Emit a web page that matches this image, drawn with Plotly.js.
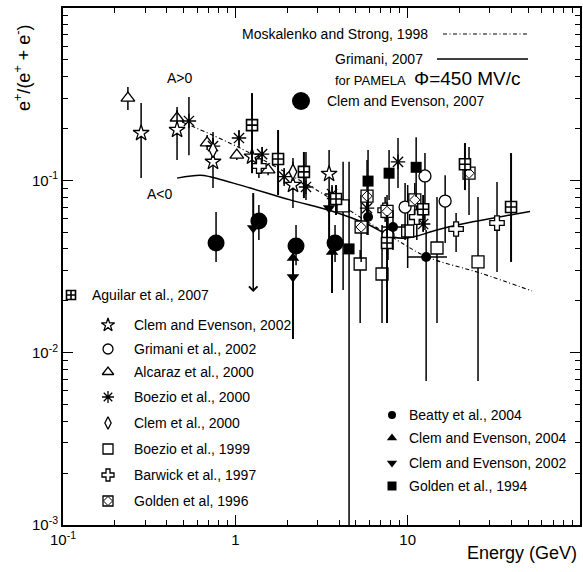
<!DOCTYPE html>
<html><head><meta charset="utf-8">
<script src="https://cdn.plot.ly/plotly-3.0.1.min.js"></script>
<style>html,body{margin:0;padding:0;background:#fff}</style>
</head><body><div id="chart" style="width:583px;height:572px"></div>
<script>
// ---------------- DATA (energy in GeV, positron fraction) ----------------
// Alcaraz et al., 2000 (open triangles)
const alcE=[0.238,0.459,0.686,1.02,1.55];
const alcF=[0.30,0.23,0.165,0.140,0.115];
const alcHi=[0.348,0.256,0.183,0.150,0.1227];
const alcLo=[0.256,0.201,0.150,0.131,0.107];
// Clem and Evenson, 2002 (open stars)
const ce02sE=[0.284,0.459,0.742,1.25,2.16,3.50];
const ce02sF=[0.188,0.196,0.128,0.137,0.094,0.109];
const ce02sHi=[0.281,0.266,0.191,0.156,0.1347,0.150];
const ce02sLo=[0.1031,0.131,0.0902,0.118,0.069,0.0768];
// Boezio et al., 2000 (asterisks)
const boe00E=[0.538,0.742,1.05,1.43,1.92,2.57,3.64,5.81,8.79,12.3];
const boe00F=[0.221,0.158,0.176,0.142,0.105,0.0915,0.0833,0.069,0.128,0.0558];
const boe00Hi=[0.304,0.176,0.196,0.156,0.118,0.146,0.0939,0.0768,0.176,0.0629];
const boe00Lo=[0.140,0.140,0.156,0.1194,0.0927,0.0768,0.0719,0.0621,0.0902,0.0501];
// Aguilar et al., 2007
const agE=[1.25,1.77,2.50,3.84,7.59,12.3,21.5,39.8];
const agF=[0.209,0.133,0.112,0.078,0.0433,0.068,0.124,0.070];
const agHi=[0.321,0.196,0.146,0.0939,0.0629,0.0822,0.1646,0.144];
const agLo=[0.110,0.0822,0.0789,0.0629,0.01486,0.055,0.0878,0.0336];
// Golden et al, 1996
const g96E=[5.37,5.81,7.59,11.0,22.7];
const g96F=[0.0536,0.081,0.066,0.077,0.110];
const g96Hi=[0.0822,0.131,0.0822,0.0965,0.156];
const g96Lo=[0.0336,0.0481,0.0515,0.0629,0.0629];
// Golden et al., 1994 (filled squares)
const g94E=[4.57,5.89,7.80,11.2];
const g94F=[0.040,0.099,0.110,0.119];
const g94Hi=[0.128,0.150,0.150,0.178];
const g94Lo=[0.0002,0.0629,0.0768,0.080];
// Beatty et al., 2004 (filled circles)
const btE=[5.89,8.22,12.8];
const btF=[0.0612,0.0536,0.0359];
const btHi=[0.0768,0.0673,0.0515];
const btLo=[0.0481,0.0394,0.00684];
const btElo=[5.89,7.10,10.05];
const btEhi=[5.89,9.66,16.9];
// Clem and Evenson, 2007 (big filled circles)
const ce07E=[0.773,1.37,2.25,3.79];
const ce07F=[0.0433,0.058,0.0416,0.0433];
const ce07Hi=[0.0655,0.0719,0.055,0.055];
const ce07Lo=[0.0336,0.045,0.0322,0.0336];
// Clem and Evenson, 2002 (filled down triangles)
const ce02tE=[1.27,2.16,3.50];
const ce02tF=[0.0529,0.0275,0.069];
const ce02tHi=[0.0844,0.0421,0.0878];
const ce02tLo=[0.0225,0.0120,0.0421];
const ce02tLimit=[true,false,false];
// Clem and Evenson, 2004 (filled up triangles)
const ce04E=[2.16,3.64];
const ce04F=[0.0354,0.0384];
const ce04Hi=[0.0421,0.045];
const ce04Lo=[0.0282,0.0222];
// Boezio et al., 1999 (open squares)
const boe99E=[4.22,5.30,7.10,10.0,14.8,25.6];
const boe99F=[0.071,0.0327,0.0286,0.0508,0.0405,0.0336];
const boe99Hi=[0.128,0.0394,0.055,0.0939,0.080,0.080];
const boe99Lo=[0.0231,0.01486,0.01486,0.031,0.01486,0.00684];
// Grimani et al., 2002 (open circles)
const gr02E=[7.69,9.66,12.6,16.5];
const gr02F=[0.048,0.070,0.106,0.0758];
const gr02Hi=[0.0629,0.0965,0.144,0.107];
const gr02Lo=[0.0345,0.045,0.0515,0.0433];
// Barwick et al., 1997 (open crosses)
const bwE=[1.37,7.40,11.3,19.1,33.0];
const bwF=[0.121,0.067,0.0612,0.0522,0.0565];
const bwHi=[0.140,0.080,0.0822,0.0646,0.0977];
const bwLo=[0.1031,0.0573,0.045,0.0384,0.0294];
// Clem et al., 2000 (open diamonds)
const cl00E=[0.742,2.16];
const cl00F=[0.150,0.112];
const cl00Hi=[0.160,0.128];
const cl00Lo=[0.140,0.099];
// Model curves
const msE=[0.491,1.065,2.83,8.67,13.0,26.3,52.7];
const msF=[0.218,0.154,0.0902,0.045,0.0359,0.029,0.0228];
const grE=[0.459,0.624,0.713,1.22,2.08,3.69,5.81,8.22,9.66,11.3,14.8,22.1,39.3,51.3];
const grF=[0.103,0.107,0.105,0.0902,0.077,0.066,0.0558,0.0469,0.0462,0.0475,0.0515,0.0565,0.0629,0.066];
// Tick labels
const xTickVals=[0.1,1,10];
const xTickText=['10<sup>-1</sup>','1','10'];
const yTickVals=[0.001,0.01,0.1];
const yTickText=['10<sup>-3</sup>','10<sup>-2</sup>','10<sup>-1</sup>'];

// ---------------- STYLE ----------------
const K='black', W='white';
const FONT='Liberation Sans, Arial, sans-serif';
const LW=1.3;
const M={
  alc:{symbol:'triangle-up',size:12,color:W,line:{color:K,width:LW}},
  ce02s:{symbol:'star',size:12,color:W,line:{color:K,width:LW}},
  boe00:{symbol:'asterisk-open',size:12,color:K,line:{color:K,width:LW}},
  ag:{symbol:'square-cross',size:11,color:W,line:{color:K,width:1.6}},
  g96:{symbol:'square',size:12,color:W,line:{color:K,width:LW}},
  g96in:{symbol:'diamond',size:8,color:W,line:{color:K,width:1}},
  g94:{symbol:'square',size:11,color:K,line:{color:K,width:0}},
  bt:{symbol:'circle',size:10,color:K,line:{color:K,width:0}},
  ce07:{symbol:'circle',size:17,color:K,line:{color:K,width:0}},
  ce02t:{symbol:'triangle-down',size:11,color:K,line:{color:K,width:0}},
  ce04:{symbol:'triangle-up',size:11,color:K,line:{color:K,width:0}},
  boe99:{symbol:'square',size:12,color:W,line:{color:K,width:LW}},
  gr02:{symbol:'circle',size:12,color:W,line:{color:K,width:LW}},
  bw:{symbol:'cross',size:12,color:W,line:{color:K,width:LW}},
  cl00:{symbol:'diamond-tall',size:11,color:W,line:{color:K,width:LW}}
};
// legend glyphs are drawn a little smaller than the data markers
function glyph(m,scale){ return Object.assign({},m,{size:Math.round(m.size*scale)}); }

function ebar(y,hi,lo,th,noLow){
  return {type:'data',symmetric:false,visible:true,
    array:hi.map((h,i)=>h-y[i]),
    arrayminus:lo.map((l,i)=>(noLow&&noLow[i])?0:y[i]-l),
    color:K,thickness:th||1.5,width:0};
}
function series(x,y,hi,lo,marker,th,noLow){
  return {type:'scatter',mode:'markers',x:x,y:y,marker:marker,
    error_y:ebar(y,hi,lo,th,noLow),showlegend:false,hoverinfo:'skip'};
}

const traces=[];
// curves
traces.push({type:'scatter',mode:'lines',x:msE,y:msF,line:{color:K,width:1.1,dash:'4px,2.5px,1px,2.5px',shape:'spline'},showlegend:false,hoverinfo:'skip'});
traces.push({type:'scatter',mode:'lines',x:grE,y:grF,line:{color:K,width:1.5,shape:'spline'},showlegend:false,hoverinfo:'skip'});
// data series
traces.push(series(alcE,alcF,alcHi,alcLo,M.alc));
traces.push(series(ce02sE,ce02sF,ce02sHi,ce02sLo,M.ce02s));
traces.push(series(boe00E,boe00F,boe00Hi,boe00Lo,M.boe00));
traces.push(series(cl00E,cl00F,cl00Hi,cl00Lo,M.cl00));
traces.push(series(boe99E,boe99F,boe99Hi,boe99Lo,M.boe99));
traces.push(series(gr02E,gr02F,gr02Hi,gr02Lo,M.gr02));
traces.push(series(bwE,bwF,bwHi,bwLo,M.bw));
traces.push(series(g96E,g96F,g96Hi,g96Lo,M.g96));
traces.push({type:'scatter',mode:'markers',x:g96E,y:g96F,marker:M.g96in,showlegend:false,hoverinfo:'skip'});
traces.push(series(agE,agF,agHi,agLo,M.ag,2));
traces.push(series(g94E,g94F,g94Hi,g94Lo,M.g94,1.5));
const bt=series(btE,btF,btHi,btLo,M.bt);
bt.error_x={type:'data',symmetric:false,array:btEhi.map((h,i)=>h-btE[i]),arrayminus:btElo.map((l,i)=>btE[i]-l),color:K,thickness:1.5,width:0};
traces.push(bt);
traces.push(series(ce07E,ce07F,ce07Hi,ce07Lo,M.ce07));
traces.push(series(ce02tE,ce02tF,ce02tHi,ce02tLo,M.ce02t,2,ce02tLimit));
traces.push(series(ce04E,ce04F,ce04Hi,ce04Lo,M.ce04,2));

// ---------------- LEGEND (layout positions in pixels) ----------------
const PL=63, PT=8, PW=517, PH=517;
const px=v=>(v-PL)/PW, py=v=>(PT+PH-v)/PH;
const legendRows=[
  {m:'ag',gx:71,tx:90,y:295,t:'Aguilar et al., 2007'},
  {m:'ce02s',gx:108,tx:132,y:325,t:'Clem and Evenson, 2002'},
  {m:'gr02',gx:108,tx:132,y:349,t:'Grimani et al., 2002'},
  {m:'alc',gx:108,tx:132,y:372,t:'Alcaraz et al., 2000'},
  {m:'boe00',gx:108,tx:132,y:397,t:'Boezio et al., 2000'},
  {m:'cl00',gx:108,tx:132,y:423,t:'Clem et al., 2000'},
  {m:'boe99',gx:108,tx:132,y:449,t:'Boezio et al., 1999'},
  {m:'bw',gx:108,tx:132,y:475,t:'Barwick et al., 1997'},
  {m:'g96',gx:108,tx:132,y:501,t:'Golden et al, 1996'},
  {m:'bt',gx:392,tx:407,y:415,t:'Beatty et al., 2004'},
  {m:'ce04',gx:392,tx:407,y:438,t:'Clem and Evenson, 2004'},
  {m:'ce02t',gx:392,tx:407,y:463,t:'Clem and Evenson, 2002'},
  {m:'g94',gx:392,tx:407,y:486,t:'Golden et al., 1994'},
  {m:'ce07',gx:301,tx:325,y:101,t:'Clem and Evenson, 2007'}
];
const annotations=[];
legendRows.forEach(r=>{
  const sc=(r.m==='ce07')?1.05:0.82;
  traces.push({type:'scatter',mode:'markers',x:[r.gx],y:[r.y],xaxis:'x2',yaxis:'y2',marker:glyph(M[r.m],sc),showlegend:false,hoverinfo:'skip',cliponaxis:false});
  if(r.m==='g96') traces.push({type:'scatter',mode:'markers',x:[r.gx],y:[r.y],xaxis:'x2',yaxis:'y2',marker:glyph(M.g96in,0.82),showlegend:false,hoverinfo:'skip',cliponaxis:false});
  annotations.push({xref:'paper',yref:'paper',x:px(r.tx),y:py(r.y),xanchor:'left',yanchor:'middle',showarrow:false,text:r.t,font:{family:FONT,size:14,color:K}});
});
// curve legend lines
traces.push({type:'scatter',mode:'lines',x:[443,528],y:[34,34],xaxis:'x2',yaxis:'y2',line:{color:K,width:1.1,dash:'4px,2.5px,1px,2.5px'},showlegend:false,hoverinfo:'skip'});
traces.push({type:'scatter',mode:'lines',x:[437,528],y:[59,59],xaxis:'x2',yaxis:'y2',line:{color:K,width:1.5},showlegend:false,hoverinfo:'skip'});
const notes=[
  {t:'Moskalenko and Strong, 1998',x:240,y:34,a:'left',s:14},
  {t:'Grimani, 2007',x:333,y:59,a:'left',s:14},
  {t:'for PAMELA',x:333,y:80,a:'left',s:13},
  {t:'\u03A6=450 MV/c',x:412,y:78,a:'left',s:19},
  {t:'A&gt;0',x:180,y:78,a:'center',s:14},
  {t:'A&lt;0',x:160,y:194,a:'center',s:14}
];
notes.forEach(n=>annotations.push({xref:'paper',yref:'paper',x:px(n.x),y:py(n.y),xanchor:n.a,yanchor:'middle',showarrow:false,text:n.t,font:{family:FONT,size:n.s,color:K}}));
// upper-limit arrows
ce02tE.forEach((e,i)=>{ if(ce02tLimit[i]) annotations.push({xref:'x',yref:'y',axref:'x',ayref:'y',
  x:Math.log10(e),y:Math.log10(ce02tLo[i]),ax:Math.log10(e),ay:Math.log10(ce02tF[i]),
  showarrow:true,arrowhead:4,arrowsize:1.1,arrowwidth:1.5,arrowcolor:K,text:' ',font:{size:1}}); });
// axis titles
annotations.push({xref:'paper',yref:'paper',x:px(579),y:py(553),xanchor:'right',yanchor:'middle',showarrow:false,text:'Energy (GeV)',font:{family:FONT,size:18,color:K}});
annotations.push({xref:'paper',yref:'paper',x:px(22),y:py(68),xanchor:'center',yanchor:'middle',textangle:-90,showarrow:false,text:'e<sup>+</sup>/(e<sup>+</sup> + e<sup>-</sup>)',font:{family:FONT,size:18,color:K}});

const xMinor=[],yMinor=[];
[-1,0,1].forEach(d=>{for(let k=2;k<10;k++) xMinor.push(k*Math.pow(10,d));});
[-3,-2,-1].forEach(d=>{for(let k=2;k<10;k++) yMinor.push(k*Math.pow(10,d));});

const axBase={showline:true,linecolor:K,linewidth:2,mirror:'allticks',ticks:'inside',ticklen:10,tickwidth:1.3,tickcolor:K,
  showgrid:false,zeroline:false,tickmode:'array',tickfont:{family:FONT,size:15,color:K}};
const layout={
  width:583,height:572,margin:{l:PL,r:583-PL-PW,t:PT,b:572-PT-PH,pad:0},
  paper_bgcolor:W,plot_bgcolor:W,showlegend:false,
  xaxis:Object.assign({},axBase,{type:'log',range:[-1,2],tickvals:xTickVals,ticktext:xTickText,
    minor:{tickmode:'array',tickvals:xMinor,ticks:'inside',ticklen:5,tickwidth:1,tickcolor:K,showgrid:false}}),
  yaxis:Object.assign({},axBase,{type:'log',range:[-3,0],tickvals:yTickVals,ticktext:yTickText,
    minor:{tickmode:'array',tickvals:yMinor,ticks:'inside',ticklen:5,tickwidth:1,tickcolor:K,showgrid:false}}),
  xaxis2:{overlaying:'x',anchor:'y2',range:[PL,PL+PW],visible:false,showgrid:false,zeroline:false},
  yaxis2:{overlaying:'y',anchor:'x2',range:[PT+PH,PT],visible:false,showgrid:false,zeroline:false},
  annotations:annotations
};
Plotly.newPlot('chart',traces,layout,{displayModeBar:false,staticPlot:true});
</script></body></html>
